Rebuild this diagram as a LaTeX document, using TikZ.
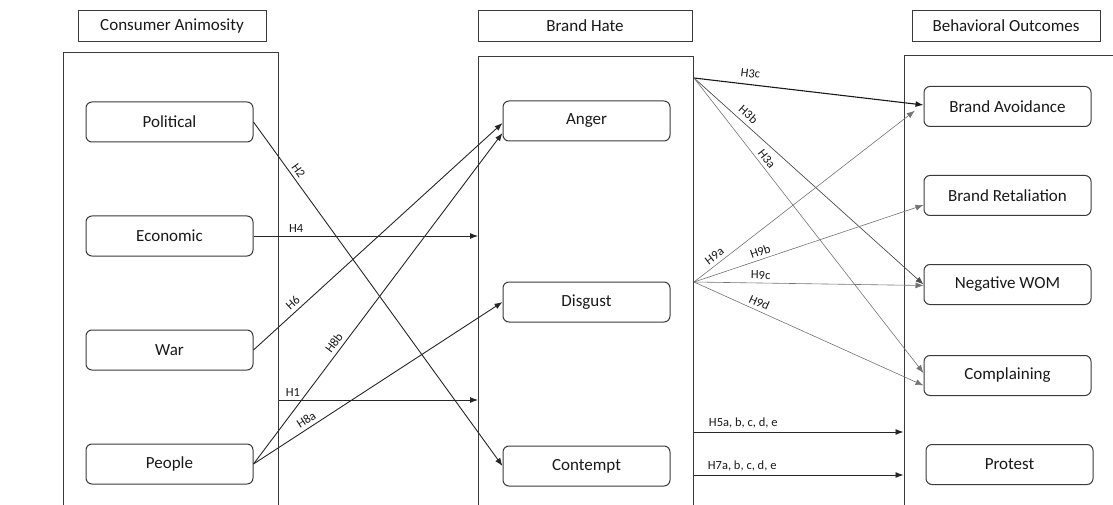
\documentclass[tikz,border=0pt]{standalone}
\usepackage{fontspec}
\setmainfont{Carlito}
\usetikzlibrary{arrows.meta,calc}
\definecolor{edge}{HTML}{3A3A3A}
\tikzset{%
  >={Latex[width=6pt,length=8pt]},
  % Specifications for style of nodes:
      heading/.style = {rectangle, draw=edge, line width=1pt,
                        minimum height=31pt, text centered, text=black!90,
                        font=\fontsize{17}{19}\selectfont},
        panel/.style = {rectangle, draw=edge, line width=1pt,
                        minimum width=215pt, minimum height=500pt},
       factor/.style = {rectangle, rounded corners=6pt, draw=edge, line width=1pt,
                        minimum width=167pt, minimum height=40pt,
                        text centered, text=black!90,
                        font=\fontsize{17}{19}\selectfont},
          hyp/.style = {font=\fontsize{12.5}{14}\selectfont, inner sep=1.5pt, text=black!90},
        hlink/.style = {->, draw=black!85, line width=0.9pt},
    thin hlink/.style = {->, draw=black!55, line width=0.6pt},
}
\begin{document}
\begin{tikzpicture}[x=1pt, y=1pt, node distance=114pt]
  \useasboundingbox (0,0) rectangle (1113,504);
  % Specification of nodes (position, etc.)
  \node (hca) [heading, minimum width=188pt] at (172,478) {Consumer Animosity};
  \node (hbh) [heading, minimum width=214pt] at (585,478) {Brand Hate};
  \node (hbo) [heading, minimum width=188pt] at (1006,478) {Behavioral Outcomes};

  \node (caframe) [panel] at (171,201) {};
  \node (bhframe) [panel] at (586,197) {};
  \node (boframe) [panel, minimum width=240pt] at (1024,198) {};

  \node (political) [factor] at (169.5,382) {Political};
  \node (economic)  [factor, below of=political] {Economic};
  \node (war)       [factor, below of=economic] {War};
  \node (people)    [factor, below of=war] {People};

  \node (anger)    [factor] at (586.5,383) {Anger};
  \node (disgust)  [factor, below of=anger, yshift=-67pt] {Disgust};
  \node (contempt) [factor, below of=disgust, yshift=-50pt] {Contempt};

  \node (avoid)    [factor] at (1007.5,397.5) {Brand Avoidance};
  \node (retal)    [factor, node distance=89pt, below of=avoid] {Brand Retaliation};
  \node (negwom)   [factor, node distance=89pt, below of=retal] {Negative WOM};
  \node (complain) [factor, node distance=89pt, below of=negwom, yshift=-2pt] {Complaining};
  \node (protest)  [factor, node distance=89pt, below of=complain, xshift=2pt] {Protest};

  \coordinate (h1start) at (caframe.east |- 0,104);
  \coordinate (h3out)   at (bhframe.east |- 0,426);
  \coordinate (h9out)   at (bhframe.east |- 0,222);
  \coordinate (h5start) at (bhframe.east |- 0,72);
  \coordinate (h7start) at (bhframe.east |- 0,29);

  % Specification of lines between nodes specified above
  \draw[hlink] (political.east) -- node[hyp, sloped, above=2pt, pos=0.155] {H2} (contempt.west);
  \draw[hlink] (economic.east) -- node[hyp, above=2pt, pos=0.19] {H4} (economic.east -| bhframe.west);
  \draw[hlink] (war.east) -- node[hyp, sloped, above=2pt, pos=0.18] {H6} ([yshift=-2pt]anger.west);
  \draw[hlink] (people.east) -- node[hyp, sloped, above=2pt, pos=0.35] {H8b} ([yshift=-12pt]anger.west);
  \draw[hlink] (people.east) -- node[hyp, sloped, above=2pt, pos=0.23] {H8a} (disgust.west);
  \draw[hlink] (h1start) -- node[hyp, above=2pt, pos=0.07] {H1} (h1start -| bhframe.west);

  \draw[hlink, draw=black!90, line width=1.1pt] (h3out) -- node[hyp, sloped, above=5pt, pos=0.24] {H3c} ([yshift=1.5pt]avoid.west);
  \draw[hlink, draw=black!70, line width=0.7pt] (h3out) -- node[hyp, sloped, above=3pt, pos=0.21] {H3b} (negwom.west);
  \draw[thin hlink] (h3out) -- node[hyp, sloped, above=2pt, pos=0.29] {H3a} ([yshift=2.5pt]complain.west);
  \draw[thin hlink, shorten >=11pt] (h9out) -- node[hyp, sloped, above=2pt, pos=0.11] {H9a} ([yshift=2.5pt]avoid.west);
  \draw[thin hlink] (h9out) -- node[hyp, sloped, above=2pt, pos=0.30] {H9b} ([yshift=-9.5pt]retal.west);
  \draw[thin hlink] (h9out) -- node[hyp, sloped, above=2pt, pos=0.29] {H9c} ([yshift=-1pt]negwom.west);
  \draw[thin hlink] (h9out) -- node[hyp, sloped, above=2pt, pos=0.27] {H9d} ([yshift=-10pt]complain.west);
  \draw[hlink] (h5start) -- node[hyp, above=2pt, pos=0.235] {H5a, b, c, d, e} (h5start -| boframe.west);
  \draw[hlink] (h7start) -- node[hyp, above=2pt, pos=0.23] {H7a, b, c, d, e} (h7start -| boframe.west);
\end{tikzpicture}
\end{document}
